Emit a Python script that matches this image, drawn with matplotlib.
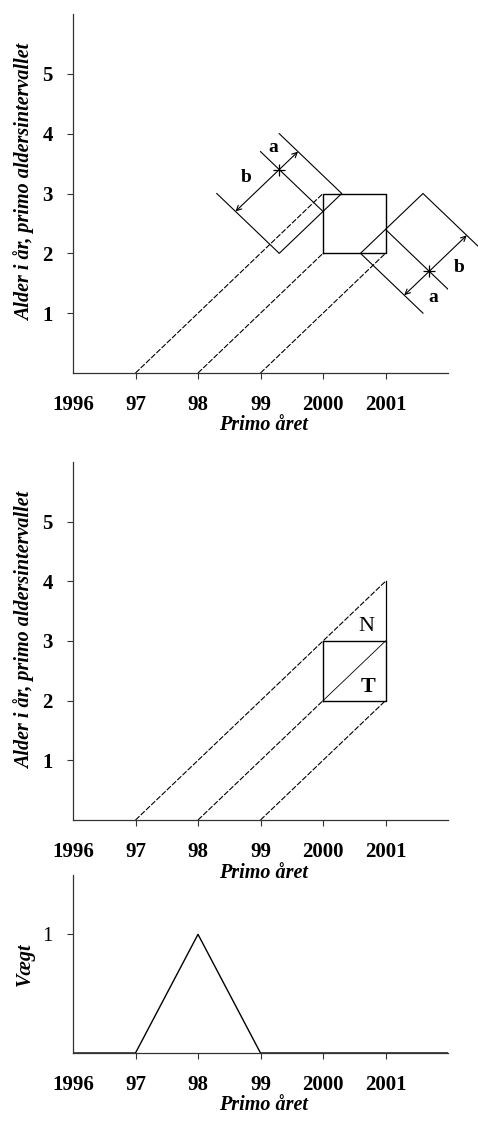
import matplotlib
matplotlib.use("Agg")
import matplotlib.pyplot as plt

# --- data ---
years = [1996, 1997, 1998, 1999, 2000, 2001]
year_labels = ["1996", "97", "98", "99", "2000", "2001"]
age_ticks = [1, 2, 3, 4, 5]

# cohort (dashed) lines: start on x axis, end point
cohort_start = [1997, 1998, 1999]
top_cohort_end_x = [2000, 2000, 2001]
top_cohort_end_y = [3, 2, 2]
mid_cohort_end_x = [2001, 2000, 2001]
mid_cohort_end_y = [4, 2, 2]

square_x = [2000, 2001, 2001, 2000, 2000]
square_y = [2, 2, 3, 3, 2]

# left "diamond" (open on upper-left side)
left_shape_x = [1998.3, 1999.3, 2000.3, 1999.3]
left_shape_y = [3, 2, 3, 4]
left_inner_x = [1999.0, 2000.0]
left_inner_y = [3.7, 2.7]
left_star = (1999.3, 3.4)
left_arrow_a = (1999.6, 3.7)
left_arrow_b = (1998.6, 2.7)

# right "diamond" (open on lower-right side)
right_shape_x = [2001.6, 2000.6, 2001.6, 2002.6]
right_shape_y = [1, 2, 3, 2]
right_inner_x = [2001.0, 2002.0]
right_inner_y = [2.4, 1.4]
right_star = (2001.7, 1.7)
right_arrow_a = (2001.3, 1.3)
right_arrow_b = (2002.3, 2.3)

weight_years = [1996, 1997, 1998, 1999, 2000, 2001, 2002]
weights = [0, 0, 1, 0, 0, 0, 0]

serif = "Liberation Serif"
plt.rcParams["font.family"] = [serif, "DejaVu Serif"]

fig = plt.figure(figsize=(4.78, 11.21), dpi=100)

W, H = 478.0, 1121.0


def make_ax(top_px, bottom_px):
    ax = fig.add_axes([73 / W, 1 - bottom_px / H, 375 / W, (bottom_px - top_px) / H])
    ax.patch.set_visible(False)  # so labels of the panel above are not hidden
    return ax


def style_ax(ax, ymax, yticks, ylabels, ylabel, ylabel_bold_ticks=True):
    ax.set_xlim(1996, 2002)
    ax.set_ylim(0, ymax)
    for s in ["top", "right"]:
        ax.spines[s].set_visible(False)
    for s in ["left", "bottom"]:
        ax.spines[s].set_linewidth(0.9)
        ax.spines[s].set_color("#333333")
    ax.set_xticks(years[1:])
    ax.set_xticklabels(year_labels[1:], fontsize=15, fontweight="bold")
    # "1996" sits at the origin, without a tick mark
    ax.set_xticks(years[:1], minor=True)
    ax.set_xticklabels(year_labels[:1], minor=True, fontsize=15, fontweight="bold")
    ax.set_yticks(yticks)
    ax.set_yticklabels(ylabels, fontsize=15,
                       fontweight="bold" if ylabel_bold_ticks else "normal")
    ax.tick_params(axis="x", which="major", direction="out", length=4, width=0.8, pad=12,
                   colors="#333333", labelcolor="black")
    ax.tick_params(axis="x", which="minor", length=0, pad=16, labelcolor="black")
    ax.tick_params(axis="y", direction="out", length=4.5, width=0.8, pad=10, colors="#333333",
                   labelcolor="black")
    ax.set_xlabel("Primo året", fontsize=14.5, fontstyle="italic", fontweight="bold")
    ax.set_ylabel(ylabel, fontsize=14.5, fontstyle="italic", fontweight="bold")


# --- top panel ---
ax1 = make_ax(14, 373)
for x0, x1, y1 in zip(cohort_start, top_cohort_end_x, top_cohort_end_y):
    ax1.plot([x0, x1], [0, y1], color="black", lw=0.8, ls=(0, (5, 1.5)))
ax1.plot(square_x, square_y, color="black", lw=1.0)
ax1.plot(left_shape_x, left_shape_y, color="black", lw=0.8)
ax1.plot(left_inner_x, left_inner_y, color="black", lw=0.8)
ax1.plot(right_shape_x, right_shape_y, color="black", lw=0.8, clip_on=False)
ax1.plot(right_inner_x, right_inner_y, color="black", lw=0.8)
for star, ea, eb in [(left_star, left_arrow_a, left_arrow_b),
                     (right_star, right_arrow_a, right_arrow_b)]:
    ax1.plot([star[0]], [star[1]], marker="+", ms=9, mew=0.9, color="black")
    for end in (ea, eb):
        ax1.annotate("", xy=end, xytext=star, annotation_clip=False,
                     arrowprops=dict(arrowstyle="->", lw=0.8, color="black",
                                     shrinkA=0, shrinkB=0, mutation_scale=9))
ax1.text(1999.2, 3.77, "a", fontsize=14, fontweight="bold", ha="center", va="center")
ax1.text(1998.77, 3.27, "b", fontsize=14, fontweight="bold", ha="center", va="center")
ax1.text(2002.18, 1.77, "b", fontsize=14, fontweight="bold", ha="center", va="center")
ax1.text(2001.76, 1.27, "a", fontsize=14, fontweight="bold", ha="center", va="center")
style_ax(ax1, 6, age_ticks, [str(t) for t in age_ticks], "Alder i år, primo aldersintervallet")

# --- middle panel ---
ax2 = make_ax(462, 820)
for x0, x1, y1 in zip(cohort_start, mid_cohort_end_x, mid_cohort_end_y):
    ax2.plot([x0, x1], [0, y1], color="black", lw=0.8, ls=(0, (5, 1.5)))
ax2.plot(square_x, square_y, color="black", lw=1.0)
ax2.plot([2000, 2001], [2, 3], color="black", lw=0.6)
ax2.plot([2001, 2001], [3, 4], color="black", lw=0.9)
ax2.text(2000.7, 3.24, "N", fontsize=16, ha="center", va="center")
ax2.text(2000.72, 2.23, "T", fontsize=16, fontweight="bold", ha="center", va="center")
style_ax(ax2, 6, age_ticks, [str(t) for t in age_ticks], "Alder i år, primo aldersintervallet")

# --- bottom panel ---
ax3 = make_ax(875, 1053)
ax3.plot(weight_years, weights, color="black", lw=1.0)
style_ax(ax3, 1.5, [1], ["1"], "Vægt", ylabel_bold_ticks=False)

for ax, top_px, bottom_px in [(ax1, 14, 373), (ax2, 462, 820), (ax3, 875, 1053)]:
    h = bottom_px - top_px
    ax.xaxis.set_label_coords((264 - 73) / 375, -42.5 / h)
    ax.yaxis.set_label_coords((35 - 73) / 375, 0.53 if h > 300 else 0.5)

fig.savefig("out.png", dpi=100)
